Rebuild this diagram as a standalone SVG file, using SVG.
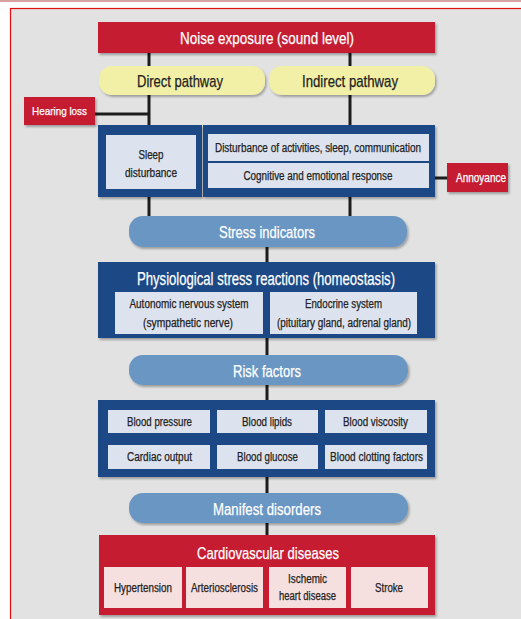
<svg xmlns="http://www.w3.org/2000/svg" width="521" height="619" viewBox="0 0 521 619">
<defs>
<filter id="sh" x="-5%" y="-10%" width="115%" height="130%"><feDropShadow dx="1.5" dy="2" stdDeviation="1.2" flood-color="#000" flood-opacity="0.3"/></filter>
<style>
text{font-family:"Liberation Sans Narrow","Liberation Sans",Arial,sans-serif;text-anchor:middle;fill:#222;stroke:#222;stroke-width:0.25}
.big{font-size:17px}
.sm{font-size:12px}
.w{fill:#fff;stroke:#fff}
.red{fill:#c61f30}
.navy{fill:#1b4a85}
.inner{fill:#dde3ee}
.pink{fill:#f6dfdf}
.pill{fill:#6b96c3}
.yel{fill:#f2efa6}
.ln{stroke:#1c1c1c;stroke-width:3;fill:none}
</style>
</defs>
<rect width="521" height="619" fill="#fff"/>
<rect x="0" y="0" width="521" height="2" fill="#d9a0a0"/>
<rect x="10.5" y="8.5" width="520" height="620" fill="#e2e2e2" stroke="#e01010" stroke-width="1.2"/>

<g id="connectors">
<line class="ln" x1="149" y1="53" x2="149" y2="66"/>
<line class="ln" x1="350" y1="53" x2="350" y2="66"/>
<line class="ln" x1="149" y1="95" x2="149" y2="125"/>
<line class="ln" x1="350" y1="95" x2="350" y2="125"/>
<line class="ln" x1="95" y1="114" x2="149" y2="114"/>
<line class="ln" x1="435" y1="178" x2="447" y2="178"/>
<line class="ln" x1="149" y1="197" x2="149" y2="216"/>
<line class="ln" x1="350" y1="197" x2="350" y2="216"/>
<line class="ln" x1="267" y1="247" x2="267" y2="262"/>
<line class="ln" x1="267" y1="338" x2="267" y2="355"/>
<line class="ln" x1="267" y1="385" x2="267" y2="400"/>
<line class="ln" x1="267" y1="477" x2="267" y2="493"/>
<line class="ln" x1="267" y1="523" x2="267" y2="535"/>
</g>

<g id="noise">
<rect class="red" x="98" y="22" width="337" height="31" filter="url(#sh)"/>
<text class="big w" x="267" y="43.5" textLength="174" lengthAdjust="spacingAndGlyphs">Noise exposure (sound level)</text>
</g>
<g id="direct">
<rect class="yel" x="99" y="66" width="166" height="29" rx="13" filter="url(#sh)"/>
<text class="big" x="180" y="86.5" textLength="86" lengthAdjust="spacingAndGlyphs">Direct pathway</text>
</g>
<g id="indirect">
<rect class="yel" x="269" y="66" width="166" height="29" rx="13" filter="url(#sh)"/>
<text class="big" x="350" y="86.5" textLength="96" lengthAdjust="spacingAndGlyphs">Indirect pathway</text>
</g>
<g id="hearing">
<rect class="red" x="24" y="97" width="71" height="28" filter="url(#sh)"/>
<text class="w" font-size="11" x="59.5" y="115" textLength="55" lengthAdjust="spacingAndGlyphs">Hearing loss</text>
</g>
<g id="sleep">
<rect class="navy" x="98" y="125" width="104" height="72" filter="url(#sh)"/>
<rect class="inner" x="106" y="135" width="90" height="54"/>
<text class="sm" x="151" y="159" textLength="25" lengthAdjust="spacingAndGlyphs">Sleep</text>
<text class="sm" x="151" y="176.5" textLength="52" lengthAdjust="spacingAndGlyphs">disturbance</text>
</g>
<g id="indirect-effects">
<rect class="navy" x="203" y="125" width="232" height="72" filter="url(#sh)"/>
<rect class="inner" x="208" y="134" width="221" height="27"/>
<rect class="inner" x="208" y="163" width="221" height="25"/>
<text class="sm" x="318" y="152" textLength="206" lengthAdjust="spacingAndGlyphs">Disturbance of activities, sleep, communication</text>
<text class="sm" x="318" y="180" textLength="149" lengthAdjust="spacingAndGlyphs">Cognitive and emotional response</text>
</g>
<g id="annoyance">
<rect class="red" x="447" y="163" width="61" height="29" filter="url(#sh)"/>
<text class="sm w" x="481" y="182" textLength="50" lengthAdjust="spacingAndGlyphs">Annoyance</text>
</g>
<g id="stress">
<rect class="pill" x="129" y="216" width="278" height="31" rx="14" filter="url(#sh)"/>
<text class="big w" x="267" y="237.5" textLength="96" lengthAdjust="spacingAndGlyphs">Stress indicators</text>
</g>
<g id="physiological">
<rect class="navy" x="98" y="262" width="337" height="76" filter="url(#sh)"/>
<text class="w" font-size="18" x="266" y="284.5" textLength="258" lengthAdjust="spacingAndGlyphs">Physiological stress reactions (homeostasis)</text>
<rect class="inner" x="115" y="292" width="148" height="42"/>
<rect class="inner" x="270" y="292" width="147" height="42"/>
<text class="sm" x="189" y="307.5" textLength="119" lengthAdjust="spacingAndGlyphs">Autonomic nervous system</text>
<text class="sm" x="188" y="327" textLength="90" lengthAdjust="spacingAndGlyphs">(sympathetic nerve)</text>
<text class="sm" x="343.5" y="307.5" textLength="77" lengthAdjust="spacingAndGlyphs">Endocrine system</text>
<text class="sm" x="344" y="327" textLength="134" lengthAdjust="spacingAndGlyphs">(pituitary gland, adrenal gland)</text>
</g>
<g id="risk">
<rect class="pill" x="129" y="355" width="279" height="30" rx="14" filter="url(#sh)"/>
<text class="big w" x="267" y="377" textLength="68" lengthAdjust="spacingAndGlyphs">Risk factors</text>
</g>
<g id="risk-list">
<rect class="navy" x="98" y="400" width="337" height="77" filter="url(#sh)"/>
<rect class="inner" x="108" y="410" width="102" height="23"/>
<rect class="inner" x="217" y="410" width="101" height="23"/>
<rect class="inner" x="325" y="410" width="102" height="23"/>
<rect class="inner" x="108" y="445" width="102" height="24"/>
<rect class="inner" x="217" y="445" width="101" height="24"/>
<rect class="inner" x="325" y="445" width="102" height="24"/>
<text class="sm" x="159.5" y="425.5" textLength="65" lengthAdjust="spacingAndGlyphs">Blood pressure</text>
<text class="sm" x="267" y="425.5" textLength="50" lengthAdjust="spacingAndGlyphs">Blood lipids</text>
<text class="sm" x="375.5" y="425.5" textLength="65" lengthAdjust="spacingAndGlyphs">Blood viscosity</text>
<text class="sm" x="159.5" y="461" textLength="65" lengthAdjust="spacingAndGlyphs">Cardiac output</text>
<text class="sm" x="267.5" y="461" textLength="61" lengthAdjust="spacingAndGlyphs">Blood glucose</text>
<text class="sm" x="376.5" y="461" textLength="93" lengthAdjust="spacingAndGlyphs">Blood clotting factors</text>
</g>
<g id="manifest">
<rect class="pill" x="129" y="493" width="279" height="30" rx="14" filter="url(#sh)"/>
<text class="big w" x="267" y="514.5" textLength="108" lengthAdjust="spacingAndGlyphs">Manifest disorders</text>
</g>
<g id="cardio">
<rect class="red" x="99" y="535" width="336" height="80" filter="url(#sh)"/>
<text class="big w" x="268" y="558.5" textLength="142" lengthAdjust="spacingAndGlyphs">Cardiovascular diseases</text>
<rect class="pink" x="104" y="567" width="78" height="41"/>
<rect class="pink" x="186" y="567" width="77" height="41"/>
<rect class="pink" x="269" y="567" width="77" height="41"/>
<rect class="pink" x="351" y="567" width="77" height="41"/>
<text class="sm" x="143" y="591.5" textLength="58" lengthAdjust="spacingAndGlyphs">Hypertension</text>
<text class="sm" x="224.5" y="591.5" textLength="67" lengthAdjust="spacingAndGlyphs">Arteriosclerosis</text>
<text class="sm" x="307.5" y="583" textLength="39" lengthAdjust="spacingAndGlyphs">Ischemic</text>
<text class="sm" x="307.5" y="600" textLength="57" lengthAdjust="spacingAndGlyphs">heart disease</text>
<text class="sm" x="389" y="591.5" textLength="28" lengthAdjust="spacingAndGlyphs">Stroke</text>
</g>
</svg>
